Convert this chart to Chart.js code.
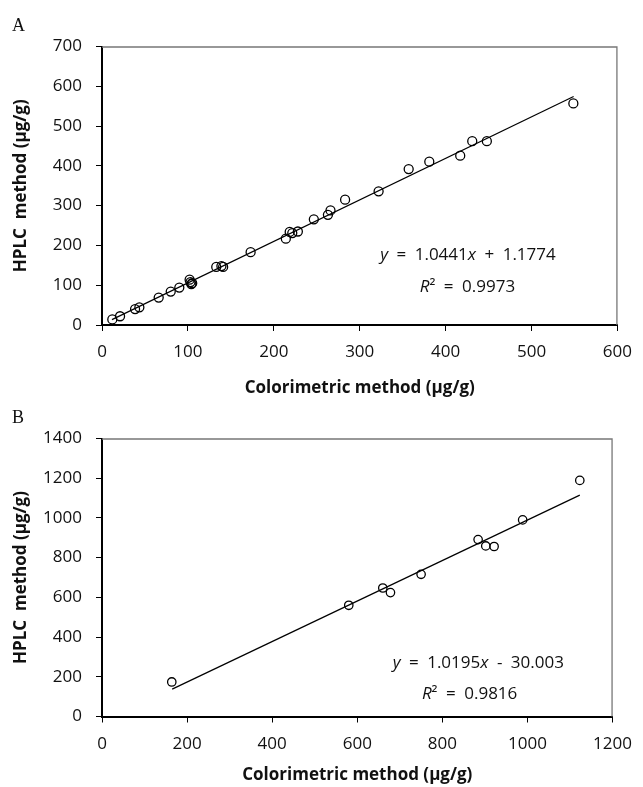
<!DOCTYPE html>
<html><head><meta charset="utf-8">
<script src="https://cdn.jsdelivr.net/npm/chart.js@4.4.0/dist/chart.umd.min.js"></script>
<style>
html,body{margin:0;padding:0;background:#fff;}
#wrap{position:relative;width:643px;height:787px;overflow:hidden;background:#fff;}
.panel{position:absolute;left:0;width:643px;}
#pa{top:0;height:400px;}
#pb{top:400px;height:387px;}
.lab{position:absolute;left:12px;font-family:"Liberation Serif","DejaVu Serif",serif;font-size:18px;color:#111;line-height:20px;}
</style></head><body>
<div id="wrap">
<div class="panel" id="pa"><canvas id="ca"></canvas></div>
<div class="panel" id="pb"><canvas id="cb"></canvas></div>
<div class="lab" style="top:15px">A</div>
<div class="lab" style="top:407px">B</div>
</div>
<script>
// ---- Panel A data ----
const ptsAx = [12, 21, 38.5, 43.5, 66, 80, 90, 102, 103, 105, 104, 133, 139, 141, 173, 214, 218.5, 221.5, 228, 246.6, 263, 266, 283, 322, 357, 381, 417, 431, 448, 548.7];
const ptsAy = [14, 22, 40, 44.5, 69, 84, 94, 114, 108, 105, 103, 146, 148, 146, 183, 217, 234, 231, 235, 265.6, 277, 288, 315, 336, 392, 410.5, 425.6, 462, 462, 557];
const fitAx = [11.6, 549];
const fitAy = [13.5, 574.4];
const xTicksA = [0, 100, 200, 300, 400, 500, 600];
const yTicksA = [0, 100, 200, 300, 400, 500, 600, 700];
// ---- Panel B data ----
const ptsBx = [164, 580, 660, 678, 750, 884, 902, 921.6, 988.7, 1123];
const ptsBy = [174, 560, 647, 624, 716, 891, 859, 856, 990, 1189];
const fitBx = [165, 1123];
const fitBy = [138, 1115];
const xTicksB = [0, 200, 400, 600, 800, 1000, 1200];
const yTicksB = [0, 200, 400, 600, 800, 1000, 1200, 1400];
// ---- text ----
const xTitle = 'Colorimetric method (μg/g)';
const yTitle = 'HPLC  method (μg/g)';
const SP = '\u2002';
const eqA = [[{t:'y',i:1},{t:SP+'='+SP+'1.0441'},{t:'x',i:1},{t:SP+'+'+SP+'1.1774'}],[{t:'R',i:1},{t:'²'+SP+'='+SP+'0.9973'}]];
const eqB = [[{t:'y',i:1},{t:SP+'='+SP+'1.0195'},{t:'x',i:1},{t:SP+'-'+SP+'30.003'}],[{t:'R',i:1},{t:'²'+SP+'='+SP+'0.9816'}]];

const FAM = '"Open Sans", "Noto Sans", sans-serif';

function pairs(xs, ys){ return xs.map((x,i)=>({x:x, y:ys[i]})); }

function drawRich(ctx, segs, cx, cy, size){
  let w = 0;
  const fonts = segs.map(s => (s.i ? 'italic ' : '') + size + 'px ' + FAM);
  segs.forEach((s,k)=>{ ctx.font = fonts[k]; w += ctx.measureText(s.t).width; });
  let x = cx - w/2;
  ctx.textBaseline = 'middle'; ctx.textAlign = 'left'; ctx.fillStyle = '#111';
  segs.forEach((s,k)=>{ ctx.font = fonts[k]; ctx.fillText(s.t, x, cy); x += ctx.measureText(s.t).width; });
}

function makePlugin(eq, pos){
  return {
    id:'deco',
    beforeDatasetsDraw(chart){
      const a = chart.chartArea, ctx = chart.ctx;
      ctx.save();
      ctx.strokeStyle = '#777'; ctx.lineWidth = 1.3;
      ctx.beginPath();
      ctx.moveTo(a.left, a.top+0.5); ctx.lineTo(a.right-0.5, a.top+0.5); ctx.lineTo(a.right-0.5, a.bottom);
      ctx.stroke();
      ctx.restore();
    },
    afterDraw(chart){
      const a = chart.chartArea, ctx = chart.ctx;
      ctx.save();
      eq.forEach((line, k)=>{
        drawRich(ctx, line, a.left + pos[k][0]*(a.right-a.left), a.top + pos[k][1]*(a.bottom-a.top), 17);
      });
      ctx.restore();
    }
  };
}

function makeChart(id, px, py, fx, fy, xt, yt, padTop, xH, eq, pos, radius){
  const ticksFont = {family: FAM, size: 17};
  const titleFont = {family: FAM, size: 17, weight: 'bold'};
  const fmt = v => String(v);
  return new Chart(document.getElementById(id), {
    type: 'scatter',
    data: { datasets: [
      { type:'line', data: pairs(fx, fy), borderColor:'#000', borderWidth:1.2, pointRadius:0, fill:false, tension:0 },
      { type:'scatter', data: pairs(px, py), pointStyle:'circle', pointRadius: radius, pointBorderWidth:1.3,
        borderColor:'#000', backgroundColor:'rgba(0,0,0,0)', pointBackgroundColor:'rgba(0,0,0,0)' }
    ]},
    options: {
      responsive:true, maintainAspectRatio:false, animation:false, devicePixelRatio:1,
      layout:{ padding:{ left:0, top:padTop, right:24, bottom:0 } },
      plugins:{ legend:{display:false}, tooltip:{enabled:false} },
      scales:{
        x:{ type:'linear', min: xt[0], max: xt[xt.length-1],
            afterBuildTicks: s => { s.ticks = xt.map(v=>({value:v})); },
            afterFit: s => { s.height = xH; },
            grid:{ display:true, drawOnChartArea:false, drawTicks:true, tickLength:6, color:'#000', lineWidth:1 },
            border:{ display:true, color:'#000', width:2 },
            ticks:{ color:'#111', font: ticksFont, padding:11, maxRotation:0, autoSkip:false, callback: fmt },
            title:{ display:true, text: xTitle, font: titleFont, color:'#111', padding:{top:0, bottom:2} } },
        y:{ type:'linear', min: yt[0], max: yt[yt.length-1],
            afterBuildTicks: s => { s.ticks = yt.map(v=>({value:v})); },
            afterFit: s => { s.width = 102; },
            grid:{ display:true, drawOnChartArea:false, drawTicks:true, tickLength:6, color:'#000', lineWidth:1 },
            border:{ display:true, color:'#000', width:2 },
            ticks:{ color:'#111', font: ticksFont, padding:14, autoSkip:false, callback: fmt },
            title:{ display:true, text: yTitle, font: titleFont, color:'#111', padding:{top:11, bottom:0} } }
      }
    },
    plugins:[ makePlugin(eq, pos) ]
  });
}

makeChart('ca', ptsAx, ptsAy, fitAx, fitAy, xTicksA, yTicksA, 46.5, 75, eqA, [[0.71,0.75],[0.709,0.865]], 4.5);
makeChart('cb', ptsBx, ptsBy, fitBx, fitBy, xTicksB, yTicksB, 38.5, 70.5, eqB, [[0.737,0.807],[0.72,0.919]], 4.2);
</script>
</body></html>
